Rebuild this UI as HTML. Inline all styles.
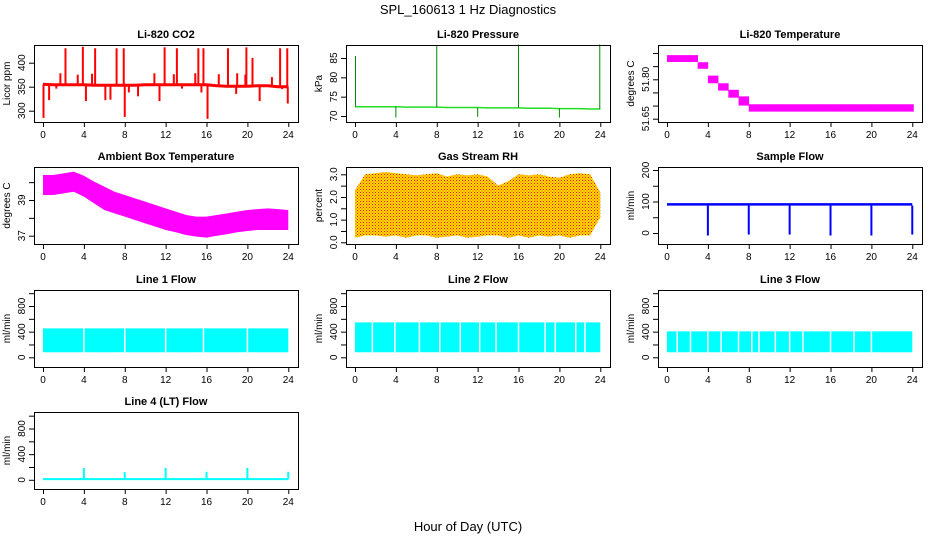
<!DOCTYPE html>
<html><head><meta charset="utf-8"><style>
html,body{margin:0;padding:0;background:#fff;}
svg{display:block;font-family:"Liberation Sans",sans-serif;}
</style></head><body>
<svg id="chart" width="936" height="540" viewBox="0 0 936 540">
<defs>
<pattern id="rhpat" width="3" height="3" patternUnits="userSpaceOnUse"><rect width="3" height="3" fill="#ffdd00"/><rect x="0" y="0" width="1" height="1" fill="#ff0000"/><rect x="1.5" y="1.5" width="1" height="1" fill="#ff3000"/></pattern>
</defs>
<text x="468" y="14" text-anchor="middle" font-size="13">SPL_160613  1 Hz Diagnostics</text>
<text x="468" y="531" text-anchor="middle" font-size="13">Hour of Day (UTC)</text>
</svg>
<script>
const hours=[0,1,2,3,4,5,6,7,8,9,10,11,12,13,14,15,16,17,18,19,20,21,22,23,24];
const xTicks=[0,4,8,12,16,20,24];
// CO2
const co2Base=[355,354,354,354,354,353,353,353,353,353,354,354,354,354,354,354,354,352,351,351,351,352,352,350,350];
const co2SpikeT=[2.2,3.9,5.1,7.2,7.9,11.9,13.1,15.2,15.7,18.1,19.9,20.5,23.2,23.9,0.05,8.0,16.1,23.95,0.6,1.7,3.4,4.8,6.6,8.4,10.9,12.8,14.9,17.2,19.0,19.8,22.4,1.3,4.2,6.1,9.3,11.4,13.6,15.5,18.9,21.2,23.4];
const co2SpikeV=[430,433,430,430,430,432,430,430,430,430,432,410,430,430,285,287,283,315,322,378,375,377,323,338,378,376,378,376,378,375,370,346,320,322,330,320,346,338,335,320,345];
// Pressure
const presBase=[72.4,72.4,72.4,72.4,72.4,72.3,72.3,72.3,72.3,72.2,72.2,72.2,72.2,72.1,72.1,72.1,72.1,72.0,72.0,72.0,71.9,71.9,71.9,71.8,71.8];
const presSpikeT=[0.05,8.0,16.0,23.95,4.0,12.0,20.0];
const presSpikeV=[85.5,88.3,88.5,88.5,69.6,69.8,69.6];
// Li-820 temperature (step levels per hour)
const ltHi=[51.892,51.892,51.892,51.865,51.814,51.785,51.76,51.735,51.705,51.705,51.705,51.705,51.705,51.705,51.705,51.705,51.705,51.705,51.705,51.705,51.705,51.705,51.705,51.705,51.705];
const ltLo=[51.866,51.866,51.866,51.84,51.785,51.757,51.73,51.70,51.677,51.677,51.677,51.677,51.677,51.677,51.677,51.677,51.677,51.677,51.677,51.677,51.677,51.677,51.677,51.677,51.677];
// Ambient box temperature
const ambHi=[40.40,40.40,40.49,40.59,40.36,40.03,39.75,39.46,39.28,39.09,38.91,38.72,38.53,38.35,38.16,38.07,38.07,38.16,38.25,38.35,38.44,38.49,38.53,38.49,38.44];
const ambLo=[39.28,39.28,39.37,39.46,39.19,38.81,38.44,38.25,38.07,37.88,37.69,37.51,37.32,37.19,37.04,36.95,36.89,37.00,37.08,37.19,37.26,37.32,37.32,37.32,37.32];
// RH
const rhHi=[2.3,3.0,3.05,3.1,3.05,3.0,2.95,3.0,3.05,2.9,3.0,2.95,3.0,2.9,2.5,2.7,3.0,2.95,3.0,2.9,2.85,3.0,3.05,3.0,2.2];
const rhLo=[0.2,0.3,0.3,0.25,0.3,0.2,0.3,0.3,0.2,0.25,0.3,0.2,0.25,0.3,0.3,0.2,0.3,0.2,0.3,0.25,0.3,0.2,0.3,0.3,1.1];
// Sample flow
const sfHi=[95,95,95,95,95,95,95,95,95,95,95,95,95,95,95,95,95,95,95,95,95,95,95,95,95];
const sfLo=[87,87,87,87,87,87,87,87,87,87,87,87,87,87,87,87,87,87,87,87,87,87,87,87,87];
const sfDropT=[4,8,12,16,20,24];
const sfDropV=[-8,-5,-5,-8,-8,-5];
// Line flows
const l1Hi=452,l1Lo=78; const l1Gaps=[4,8,12,15.7,20];
const l2Hi=545,l2Lo=78; const l2Gaps=[1.7,3.9,6.3,8.3,10.3,12.2,13.8,16,18.6,19.6,21.6,22.5];
const l3Hi=405,l3Lo=78; const l3Gaps=[1,2.3,4,5.3,7,8.3,9,10.6,12,13.3,16,18.3,20];
const l4Base=[10,10,10,10,10,10,10,10,10,10,10,10,10,10,10,10,10,10,10,10,10,10,10,10,10];
const l4SpikeT=[4,8,12,16,20,24];
const l4SpikeV=[185,120,185,125,185,125];

const svg=document.getElementById('chart');
const NS='http://www.w3.org/2000/svg';
function mk(tag,attrs,parent){const e=document.createElementNS(NS,tag);for(const k in attrs)e.setAttribute(k,attrs[k]);(parent||svg).appendChild(e);return e;}
function panel(name,title,ylab,bx,by,v1,p1,v2,p2,yt,ylabels){
  const g=mk('g',{});
  
  
  const W=264,H=77;
  const X=t=>bx+9+t*10.22;
  const Y=v=>p1+(v-v1)*(p2-p1)/(v2-v1);
  const t=mk('text',{x:bx+W/2,y:by-7,'text-anchor':'middle','font-size':'11','font-weight':'bold'},g);
  t.textContent=title;
  
  
  const yl=mk('text',{x:0,y:0,transform:`translate(${bx-24},${by+H/2}) rotate(-90)`,'text-anchor':'middle','font-size':'10'},g);
  yl.textContent=ylab;
  
  
  const ax=mk('g',{stroke:'#000','stroke-width':'1',fill:'none'},g);
  mk('line',{x1:X(0),x2:X(24),y1:by+H+0.5,y2:by+H+0.5},ax);
  xTicks.forEach(v=>{mk('line',{x1:X(v)+0.5,x2:X(v)+0.5,y1:by+H,y2:by+H+5},ax);
    const tl=mk('text',{x:X(v),y:by+H+16,'text-anchor':'middle','font-size':'10',fill:'#000',stroke:'none'},g);tl.textContent=v;
    
    });
  yt.forEach(v=>{mk('line',{x1:bx-5,x2:bx,y1:Y(v)+0.5,y2:Y(v)+0.5},ax);});
  mk('line',{x1:bx+0.5,x2:bx+0.5,y1:Y(yt[0]),y2:Y(yt[yt.length-1])},ax);
  ylabels.forEach(([v,s])=>{const tl=mk('text',{x:0,y:0,transform:`translate(${bx-9},${Y(v)}) rotate(-90)`,'text-anchor':'middle','font-size':'10'},g);tl.textContent=s;
    
    });
  const plot=mk('g',{},g);
  mk('rect',{x:bx+0.5,y:by+0.5,width:W,height:H,fill:'none',stroke:'#000'},g);
  return {X,Y,g:plot};
}
function band(p,hi,lo,fill,name){
  let d='M'+hours.map((h,i)=>p.X(h)+','+p.Y(hi[i])).join('L');
  d+='L'+hours.slice().reverse().map((h,j)=>{const i=hours.length-1-j;return p.X(h)+','+p.Y(lo[i]);}).join('L')+'Z';
  const e=mk('path',{d:d,fill:fill,stroke:'none'},p.g);
  
  
  return e;
}
function stepBand(p,hi,lo,fill,name){
  hours.forEach((h,i)=>{const x1=p.X(h), x2=p.X(Math.min(24,h+1));
    const w=i<24?x2-x1+0.3:1.5;
    const e=mk('rect',{x:x1,y:p.Y(hi[i]),width:w,height:p.Y(lo[i])-p.Y(hi[i]),fill:fill},p.g);
    
    });
}
function line(p,vals,color,w,name){
  const e=mk('polyline',{points:hours.map((h,i)=>p.X(h)+','+p.Y(vals[i])).join(' '),fill:'none',stroke:color,'stroke-width':w},p.g);
  
  
}
function spikes(p,ts,vs,base,color,name,w){
  ts.forEach((t,i)=>{const bi=Math.min(24,Math.max(0,Math.round(t)));
    const e=mk('line',{x1:p.X(t),x2:p.X(t),y1:p.Y(base[bi]),y2:p.Y(vs[i]),stroke:color,'stroke-width':w||2},p.g);
    
    });
}
function flat(v){return hours.map(()=>v);}
function flow(p,hi,lo,gaps,name){
  band(p,flat(hi),flat(lo),'#00ffff',name);
  gaps.forEach(t=>{const e=mk('line',{x1:p.X(t),x2:p.X(t),y1:p.Y(hi)-1,y2:p.Y(lo)+1,stroke:'#fff','stroke-width':'1.5'},p.g);
    
    });
}
const bxs=[34,346,658], bys=[45,167,290,412];
// Row 1
let p=panel('panel-co2','Li-820 CO2','Licor ppm',bxs[0],bys[0],300,110.7,400,62.7,[300,350,400],[[300,'300'],[350,'350'],[400,'400']]);
line(p,co2Base,'#ff0000',3,'co2-line');spikes(p,co2SpikeT,co2SpikeV,co2Base,'#ff0000','co2-spike');
p=panel('panel-pressure','Li-820 Pressure','kPa',bxs[1],bys[0],70,116,85,58,[70,75,80,85],[[70,'70'],[75,'75'],[80,'80'],[85,'85']]);
line(p,presBase,'#22dd22',1.5,'pressure-line');spikes(p,presSpikeT,presSpikeV,presBase,'#008800','pressure-spike',1);
p=panel('panel-li-temp','Li-820 Temperature','degrees C',bxs[2],bys[0],51.65,118.7,51.80,79.3,[51.65,51.70,51.75,51.80,51.85,51.90],[[51.65,'51.65'],[51.80,'51.80']]);
stepBand(p,ltHi,ltLo,'#ff00ff','li-temp-band');
// Row 2
p=panel('panel-ambient','Ambient Box Temperature','degrees C',bxs[0],bys[1],37,235.7,39,200,[37,38,39,40],[[37,'37'],[39,'39']]);
band(p,ambHi,ambLo,'#ff00ff','ambient-band');
p=panel('panel-rh','Gas Stream RH','percent',bxs[1],bys[1],0,242.3,3,174.3,[0,0.5,1,1.5,2,2.5,3],[[0,'0.0'],[1,'1.0'],[2,'2.0'],[3,'3.0']]);
band(p,rhHi,rhLo,'url(#rhpat)','rh-band');
p=panel('panel-sample-flow','Sample Flow','ml/min',bxs[2],bys[1],0,233,200,170,[0,50,100,150,200],[[0,'0'],[100,'100'],[200,'200']]);
band(p,sfHi,sfLo,'#0000ff','sample-flow-band');spikes(p,sfDropT,sfDropV,sfLo,'#0000ff','sample-flow-drop');
// Row 3 & 4
const ft=[0,200,400,600,800,1000], fl=[[0,'0'],[400,'400'],[800,'800']];
p=panel('panel-line1','Line 1 Flow','ml/min',bxs[0],bys[2],0,357.3,800,306,ft,fl);flow(p,l1Hi,l1Lo,l1Gaps,'line1-band');
p=panel('panel-line2','Line 2 Flow','ml/min',bxs[1],bys[2],0,357.3,800,306,ft,fl);flow(p,l2Hi,l2Lo,l2Gaps,'line2-band');
p=panel('panel-line3','Line 3 Flow','ml/min',bxs[2],bys[2],0,357.3,800,306,ft,fl);flow(p,l3Hi,l3Lo,l3Gaps,'line3-band');
p=panel('panel-line4','Line 4 (LT) Flow','ml/min',bxs[0],bys[3],0,479.8,800,428.5,ft,fl);
line(p,l4Base,'#00ffff',2,'line4-line');spikes(p,l4SpikeT,l4SpikeV,l4Base,'#00ffff','line4-spike');
</script>
</body></html>
